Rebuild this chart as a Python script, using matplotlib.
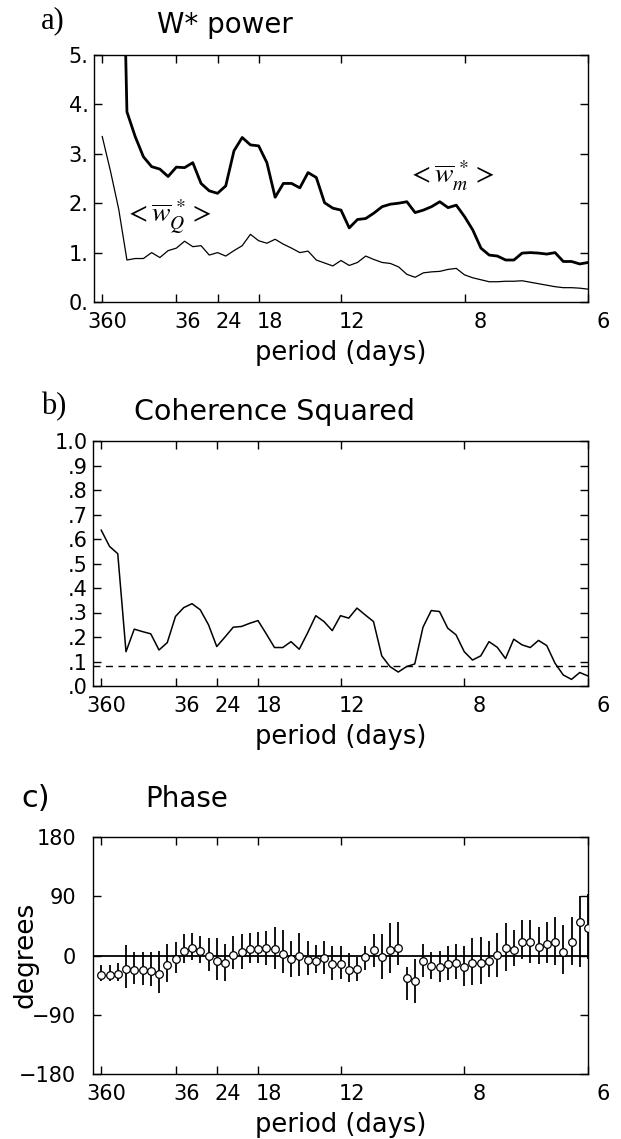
import numpy as np
import matplotlib
matplotlib.use('Agg')
import matplotlib.pyplot as plt
from matplotlib.transforms import ScaledTranslation

plt.rcParams['font.family'] = ['DejaVu Sans']
plt.rcParams['mathtext.fontset'] = 'stix'

# ---- data ------------------------------------------------------------
# harmonic index k, frequency = k / 360 cycles per day
harmonic = np.arange(1, 61)

period_ticks = [360, 36, 24, 18, 12, 8, 6]
period_labels = ['360', '36', '24', '18', '12', '8', '6']

# a) W* power
power_wm = [30.0, 25.0, 11.5, 3.85, 3.35, 2.94, 2.74, 2.69, 2.54, 2.73,
            2.72, 2.82, 2.40, 2.25, 2.20, 2.35, 3.06, 3.33, 3.18, 3.16,
            2.82, 2.12, 2.40, 2.40, 2.31, 2.62, 2.52, 2.01, 1.90, 1.86,
            1.50, 1.67, 1.69, 1.80, 1.93, 1.98, 2.00, 2.03, 1.81, 1.86,
            1.93, 2.03, 1.91, 1.96, 1.73, 1.46, 1.09, 0.95, 0.93, 0.85,
            0.85, 0.99, 1.00, 0.99, 0.97, 1.00, 0.82, 0.82, 0.77, 0.80]
power_wq = [3.35, 2.65, 1.88, 0.85, 0.88, 0.88, 1.00, 0.90, 1.04, 1.09,
            1.23, 1.12, 1.14, 0.95, 1.00, 0.93, 1.04, 1.14, 1.37, 1.24,
            1.19, 1.27, 1.17, 1.09, 1.00, 1.03, 0.85, 0.79, 0.73, 0.84,
            0.74, 0.80, 0.93, 0.86, 0.80, 0.78, 0.71, 0.56, 0.50, 0.59,
            0.61, 0.62, 0.66, 0.68, 0.55, 0.49, 0.45, 0.41, 0.41, 0.42,
            0.42, 0.43, 0.40, 0.37, 0.34, 0.31, 0.29, 0.29, 0.28, 0.26]
power_yticks = [0, 1, 2, 3, 4, 5]
power_ylabels = ['0.', '1.', '2.', '3.', '4.', '5.']

# b) coherence squared
coherence = [0.636, 0.57, 0.54, 0.14, 0.232, 0.222, 0.213, 0.147, 0.177, 0.284,
             0.32, 0.336, 0.311, 0.25, 0.161, 0.20, 0.24, 0.243, 0.256, 0.267,
             0.213, 0.157, 0.157, 0.181, 0.15, 0.216, 0.287, 0.263, 0.226, 0.287,
             0.277, 0.318, 0.29, 0.263, 0.123, 0.079, 0.057, 0.079, 0.09, 0.24,
             0.308, 0.304, 0.236, 0.209, 0.14, 0.106, 0.123, 0.181, 0.158, 0.112,
             0.191, 0.168, 0.157, 0.186, 0.165, 0.093, 0.045, 0.027, 0.055, 0.041]
coh_signif = 0.08
coh_yticks = [0.0, 0.1, 0.2, 0.3, 0.4, 0.5, 0.6, 0.7, 0.8, 0.9, 1.0]
coh_ylabels = ['.0', '.1', '.2', '.3', '.4', '.5', '.6', '.7', '.8', '.9', '1.0']

# c) phase (degrees) with error bar ends
phase = [-29, -29, -28, -21, -22, -22, -24, -28, -14, -6,
         7, 11, 7, -1, -8, -12, 1, 5, 10, 10,
         11, 10, 3, -6, 0, -7, -8, -4, -13, -13,
         -22, -20, -2, 9, -3, 9, 11, -34, -38, -9,
         -16, -17, -13, -11, -18, -12, -12, -8, 1, 11,
         9, 21, 20, 13, 17, 20, 6, 20, 51, 42]
phase_top = [-15, -15, -12, 16, 6, 5, 5, 7, 18, 20,
             32, 34, 30, 27, 26, 18, 29, 32, 34, 36,
             37, 43, 38, 22, 34, 22, 16, 22, 15, 15,
             4, -2, 14, 33, 33, 49, 51, -17, -5, 18,
             6, 7, 15, 17, 15, 27, 28, 22, 34, 49,
             39, 54, 54, 43, 51, 59, 46, 59, 91, 93]
phase_bot = [-39, -39, -38, -50, -44, -45, -47, -57, -41, -26,
             -11, -7, -12, -23, -37, -38, -20, -20, -12, -12,
             -15, -21, -26, -32, -31, -29, -27, -28, -37, -36,
             -41, -38, -22, -18, -36, -26, -15, -68, -72, -32,
             -36, -41, -37, -36, -47, -45, -44, -32, -32, -24,
             -16, -6, -11, -13, -11, -15, -28, -15, -17, -5]
phase_yticks = [-180, -90, 0, 90, 180]

# ---- layout (pixels of a 621 x 1139 figure) ---------------------------
W, H = 621, 1139
# horizontal offset (points) of each period label to the right of its tick
label_shift = [4, 8, 8, 8, 8, 11, 11]


def rect(left, right, top, bottom):
    return [left / W, 1 - bottom / H, (right - left) / W, (bottom - top) / H]


def period_axis(ax, fig):
    ax.set_xlim(0, 1 / 6)
    ax.set_xticks([1 / p for p in period_ticks])
    ax.set_xticklabels(period_labels)
    ax.tick_params(axis='both', direction='in', top=True, right=True,
                   length=6, width=1, labelsize=15)
    ax.tick_params(axis='x', pad=7)
    ax.set_xlabel('period (days)', fontsize=18.5, labelpad=6)
    for lab, dx in zip(ax.get_xticklabels(), label_shift):
        lab.set_transform(lab.get_transform() +
                          ScaledTranslation(dx / 72, 0, fig.dpi_scale_trans))
    for sp in ax.spines.values():
        sp.set_linewidth(1.0)


fig = plt.figure(figsize=(W / 100, H / 100), dpi=100)
freq = harmonic / 360.0

# a) W* power
ax1 = fig.add_axes(rect(94, 588, 55, 302))
ax1.plot(freq, power_wm, color='black', lw=2.0)
ax1.plot(freq, power_wq, color='black', lw=0.9)
ax1.set_ylim(0, 5)
ax1.set_yticks(power_yticks)
ax1.set_yticklabels(power_ylabels)
period_axis(ax1, fig)
ax1.tick_params(axis='y', pad=4)
ax1.text(9 / 360, 1.72, r'$<\overline{w}_{Q}^{\,*}>$', fontsize=20,
         ha='center', va='center')
ax1.text(43.4 / 360, 2.56, r'$<\overline{w}_{m}^{\,*}>$', fontsize=20,
         ha='center', va='center')
fig.text(41 / W, 1 - 28 / H, 'a)', family='Liberation Serif', fontsize=22,
         va='baseline')
fig.text(157 / W, 1 - 33 / H, 'W* power', fontsize=20, va='baseline')

# b) coherence squared
ax2 = fig.add_axes(rect(93, 588, 441, 686))
ax2.plot(freq, coherence, color='black', lw=1.1)
ax2.axhline(coh_signif, color='black', lw=1.0, ls=(0, (5, 4)))
ax2.set_ylim(0, 1)
ax2.set_yticks(coh_yticks)
ax2.set_yticklabels(coh_ylabels)
period_axis(ax2, fig)
ax2.tick_params(axis='y', pad=4)
fig.text(41 / W, 1 - 414 / H, 'b)', family='Liberation Serif', fontsize=22,
         va='baseline')
fig.text(134 / W, 1 - 420 / H, 'Coherence Squared', fontsize=20.5,
         va='baseline')

# c) phase
ax3 = fig.add_axes(rect(93, 588, 837, 1074))
ph = np.array(phase)
yerr = [ph - np.array(phase_bot), np.array(phase_top) - ph]
ax3.axhline(0, color='black', lw=1.3)
ax3.errorbar(freq, ph, yerr=yerr, fmt='o', ms=5.5, mfc='white', mec='black',
             mew=0.9, ecolor='black', elinewidth=1.3, capsize=0, zorder=3)
ax3.set_ylim(-180, 180)
ax3.set_yticks(phase_yticks)
period_axis(ax3, fig)
ax3.tick_params(axis='y', pad=12)
fig.text(25 / W, 1 - 955 / H, 'degrees', fontsize=19, rotation=90,
         ha='center', va='center')
fig.text(21 / W, 1 - 807 / H, 'c)', fontsize=22, va='baseline')
fig.text(145 / W, 1 - 807 / H, 'Phase', fontsize=20, va='baseline')

fig.savefig('out.png', dpi=100)
